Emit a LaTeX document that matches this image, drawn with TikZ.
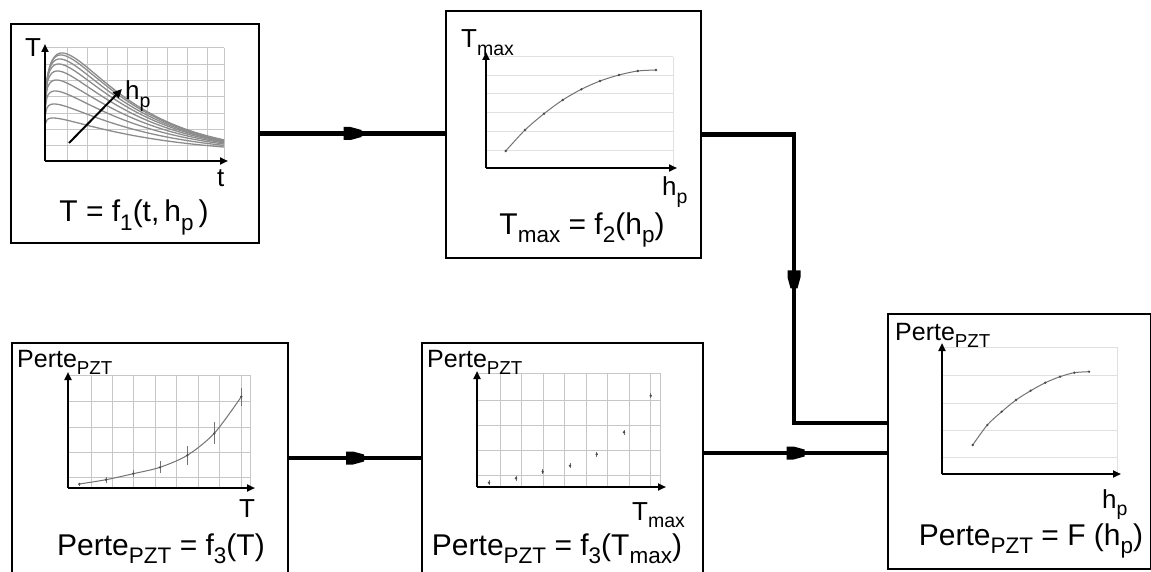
\documentclass[tikz,border=0pt]{standalone}
\usepackage{fontspec}
\setmainfont{Liberation Sans}
\usepackage{graphicx}
\usetikzlibrary{arrows.meta,decorations.markings}
\newcommand\dn[1]{\raisebox{-0.28em}{\scalebox{0.75}{#1}}}
\tikzset{
  box/.style={draw, line width=2pt, rectangle, inner sep=0pt, anchor=north west},
  conn/.style={line width=4.6pt, line join=miter},
  midarrow/.style={postaction={decorate, decoration={markings, mark=at position #1 with {\fill (-9,-6.5) -- (-2,-6.5) -- (9,-3.5) -- (9,3.5) -- (-2,6.5) -- (-9,6.5) -- cycle;}}}},
  lbl/.style={font=\fontsize{30}{33}\selectfont, inner sep=0pt, anchor=base},
  axl/.style={font=\fontsize{26}{28}\selectfont, inner sep=0pt, anchor=base west},
  pzt/.style={font=\fontsize{25}{27}\selectfont},
  axis/.style={line width=2.2pt, -{Triangle[length=8pt,width=7pt]}},
  gridA/.style={draw=black!22, line width=1pt},
  gridB/.style={draw=black!12, line width=1pt},
  curve/.style={draw=black!45, line width=1.3pt},
  fcurve/.style={draw=black!55, line width=1pt},
  dot/.style={fill=black!70},
}
\begin{document}
\begin{tikzpicture}[x=1pt,y=-1pt]
\clip (0,0) rectangle (1151,572);
\fill[white] (0,0) rectangle (1151,572);
% boxes
\node[box, minimum width=248pt, minimum height=219pt] (b1) at (10,23) {};
\node[box, minimum width=255pt, minimum height=247pt] (b2) at (445,10) {};
\node[box, minimum width=276pt, minimum height=232pt] (b3) at (11,342) {};
\node[box, minimum width=281pt, minimum height=232pt] (b4) at (421,342) {};
\node[box, minimum width=263pt, minimum height=255pt] (b5) at (887,313) {};
% ---- plot 1
\foreach \x in {67,87,...,207} \draw[gridA] (\x,48) -- (\x,161);
\draw[gridA] (224,48) -- (224,161);
\foreach \y in {48,64.3,80.6,97,113.3,129.6,146} \draw[gridA] (45,\y) -- (224,\y);
\foreach \P [count=\n from 0] in {43,57,70,81,90,97,102,106,108}{
  \pgfmathsetmacro\tp{8+9*\n/8}
  \pgfmathsetmacro\ex{0.084+0.182*\n/8}
  \draw[curve] plot[domain=45.4:224, samples=110, smooth] (\x, {161-(6+(\P-6)*exp(\ex*ln((\x-45)/\tp))*exp(\ex*(1-(\x-45)/\tp)))});
}
\draw[axis] (45,161) -- (45,44);
\draw[axis] (45,161) -- (228,161);
\draw[line width=2pt, -{Triangle[length=9pt,width=8pt]}] (69,143) -- (122,89);
\node[axl] (a1y) at (25,57) {T};
\node[axl] (a1x) at (217,187) {t};
\node[axl] (a1h) at (125,100) {h\dn{p}};
\node[lbl] (t1) at (134,222) {T = f\dn{1}(t,\,h\dn{p}\,)};
% ---- plot 2
\foreach \y in {57,76,94,113,132,151} \draw[gridB] (486,\y) -- (673,\y);
\draw[gridB] (673,57) -- (673,168);
\draw[fcurve] plot[smooth] coordinates {(505.7,151) (525,130) (544,113.7) (562.7,100) (581.3,89.3) (600,81) (619,75) (637.7,71) (656,70)};
\foreach \p in {(505.7,151),(525,130),(544,113.7),(562.7,100),(581.3,89.3),(600,81),(619,75),(637.7,71),(656,70)} \fill[dot] \p circle (1.3pt);
\draw[axis] (486,168) -- (486,52);
\draw[axis] (486,168) -- (677,168);
\node[axl] (a2y) at (461,48) {T\dn{max}};
\node[axl] (a2x) at (662,196) {h\dn{p}};
\node[lbl] (t2) at (582,234) {T\dn{max} = f\dn{2}(h\dn{p})};
% ---- plot 3
\foreach \k in {0,...,7} \draw[gridA] ({91+21.43*\k},375) -- ({91+21.43*\k},488);
\draw[gridA] (250,375) -- (250,488);
\foreach \y in {375,401,427,452,477} \draw[gridA] (68,\y) -- (250,\y);
\draw[fcurve] plot[smooth] coordinates {(79.3,484) (106,479.7) (133.3,473.7) (160,467.3) (187.3,455.3) (214.3,433.3) (241.3,396.7)};
\foreach \x/\y/\e in {79.3/484/1.5, 106/479.7/3, 133.3/473.7/3.5, 160/467.3/6, 187.3/455.3/9.5, 214.3/433.3/11, 241.3/396.7/9}{
  \draw[black!55, line width=1pt] (\x,\y-\e) -- (\x,\y+\e);
  \fill[dot] (\x,\y) circle (1.3pt);
}
\draw[axis] (68,488) -- (68,372);
\draw[axis] (68,488) -- (255,488);
\node[axl, pzt] (a3y) at (17,367) {Perte\dn{PZT}};
\node[axl] (a3x) at (239,517) {T};
\node[lbl] (t3) at (161,555) {Perte\dn{PZT} = f\dn{3}(T)};
% ---- plot 4
\foreach \k in {0,...,7} \draw[gridA] ({500+21.57*\k},373) -- ({500+21.57*\k},487);
\draw[gridA] (660,373) -- (660,487);
\foreach \y in {373,400,425,450,475} \draw[gridA] (477,\y) -- (660,\y);
\foreach \x/\y in {489/482.7, 516/478.3, 542.7/471.7, 570/465.7, 596.7/454.3, 624/432.3, 650.7/395.7}{
  \draw[black!55, line width=0.8pt] (\x,\y-2.5) -- (\x,\y+2.5);
  \fill[dot] (\x,\y) circle (1.4pt);
}
\draw[axis] (477,487) -- (477,371);
\draw[axis] (477,487) -- (666,487);
\node[axl, pzt] (a4y) at (427,367) {Perte\dn{PZT}};
\node[axl] (a4x) at (632,520) {T\dn{max}};
\node[lbl] (t4) at (557,555) {Perte\dn{PZT} = f\dn{3}(T\dn{max})};
% ---- plot 5
\foreach \y in {347,375,403,430,457} \draw[gridB] (942,\y) -- (1117,\y);
\draw[gridB] (1117,347) -- (1117,474);
\draw[fcurve] plot[smooth] coordinates {(972.7,445) (987.3,425) (1001.7,411.7) (1016,400) (1030.7,390.7) (1045.3,382.7) (1060,376.7) (1074.3,372.7) (1089,371.7)};
\foreach \p in {(972.7,445),(987.3,425),(1001.7,411.7),(1016,400),(1030.7,390.7),(1045.3,382.7),(1060,376.7),(1074.3,372.7),(1089,371.7)} \fill[dot] \p circle (1.3pt);
\draw[axis] (942,474) -- (942,343);
\draw[axis] (942,474) -- (1121,474);
\node[axl, pzt] (a5y) at (895,340) {Perte\dn{PZT}};
\node[axl] (a5x) at (1102,508) {h\dn{p}};
\node[lbl] (t5) at (1031,545) {Perte\dn{PZT} = F (h\dn{p})};
% ---- connectors
\coordinate (k2) at (794,423);
\coordinate (y458) at (0,458);
\coordinate (y453) at (0,453);
\draw[conn, midarrow=0.5] (b1.east) -- (b1.east -| b2.west);
\draw[conn, midarrow=0.5] (b2.east) -| (k2) -- (k2 -| b5.west);
\draw[conn, midarrow=0.5] (b3.east |- y458) -- (b4.west |- y458);
\draw[conn, midarrow=0.5] (b4.east |- y453) -- (b5.west |- y453);
\end{tikzpicture}
\end{document}
